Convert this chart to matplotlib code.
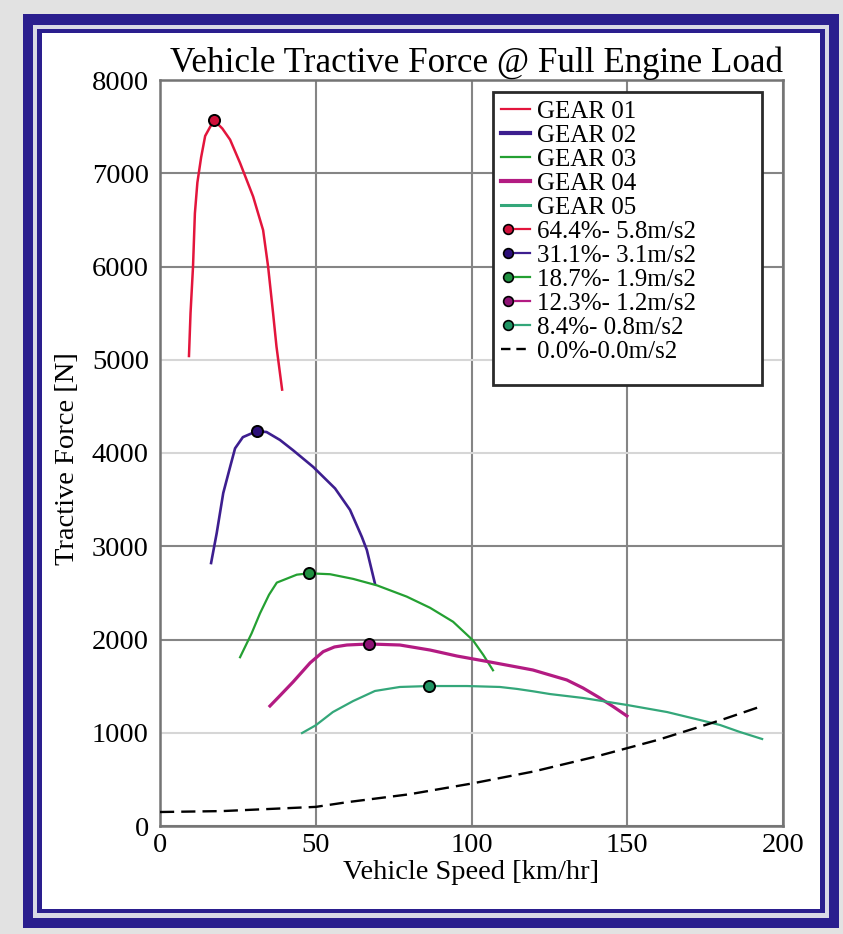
# =========================================================
# 1. IMPORTS
# =========================================================
import matplotlib
matplotlib.use("Agg")
import matplotlib.pyplot as plt
from matplotlib.lines import Line2D
from matplotlib.patches import Rectangle
from matplotlib.legend_handler import HandlerTuple

# =========================================================
# 2. DATA
# =========================================================
gear1_speed = [9.3, 9.8, 10.6, 11.2, 12.0, 13.2, 14.5, 17.3, 20.0, 22.5, 25.7,
               29.9, 33.1, 34.7, 36.3, 37.4, 39.2]
gear1_force = [5040, 5500, 6000, 6570, 6900, 7170, 7400, 7570, 7480, 7360, 7110,
               6750, 6390, 6000, 5500, 5140, 4680]

gear2_speed = [16.4, 18.2, 20.3, 22.5, 24.1, 26.6, 31.1, 34.2, 38.5, 42.7, 49.2,
               56.2, 61.0, 64.8, 66.4, 69.0]
gear2_force = [2820, 3140, 3570, 3850, 4050, 4170, 4235, 4225, 4140, 4030, 3850,
               3620, 3390, 3100, 2960, 2600]

gear3_speed = [25.7, 29.4, 32.1, 35.0, 37.5, 43.9, 47.8, 54.6, 62.0, 69.7, 79.2,
               86.7, 94.1, 100.5, 103.8, 106.9]
gear3_force = [1810, 2065, 2280, 2480, 2610, 2695, 2710, 2700, 2650, 2580, 2460,
               2340, 2190, 1990, 1834, 1670]

gear4_speed = [35.3, 38.0, 42.7, 48.2, 52.4, 56.0, 60.0, 67.1, 77.0, 86.7, 95.3,
               105.9, 114.6, 119.7, 125.2, 130.6, 135.8, 141.2, 145.5, 149.9]
gear4_force = [1287, 1380, 1544, 1750, 1870, 1920, 1941, 1952, 1941, 1887, 1823,
               1759, 1705, 1673, 1619, 1566, 1480, 1373, 1280, 1180]

gear5_speed = [45.6, 50.0, 55.5, 62.0, 69.0, 77.0, 86.4, 98.5, 109.1, 114.6, 119.7,
               125.2, 135.8, 149.9, 162.8, 173.3, 179.8, 186.0, 193.3]
gear5_force = [997, 1080, 1222, 1340, 1448, 1491, 1501, 1501, 1491, 1470, 1445,
               1415, 1373, 1298, 1222, 1137, 1083, 1010, 933]

resist_speed = [0, 20, 40, 50, 60, 80, 100, 120, 140, 160, 180, 193.6]
resist_force = [150, 160, 190, 205, 255, 340, 455, 585, 745, 925, 1135, 1290]

point_speed = [17.3, 31.1, 47.8, 67.1, 86.4]
point_force = [7570, 4235, 2710, 1952, 1501]
point_labels = ["64.4%- 5.8m/s2", "31.1%- 3.1m/s2", "18.7%- 1.9m/s2",
                "12.3%- 1.2m/s2", "8.4%- 0.8m/s2"]

gear_labels = ["GEAR 01", "GEAR 02", "GEAR 03", "GEAR 04", "GEAR 05"]
resist_label = "0.0%-0.0m/s2"

x_ticks = [0, 50, 100, 150, 200]
y_ticks = [0, 1000, 2000, 3000, 4000, 5000, 6000, 7000, 8000]

# =========================================================
# 3. STYLE SETTINGS
# =========================================================
FONT = ["Liberation Serif", "DejaVu Serif"]
NAVY = "#2a1e8e"
GEAR_COLORS = ["#e3153c", "#3d1e8f", "#24a032", "#b31b82", "#34a77a"]
GEAR_WIDTHS = [1.8, 1.9, 1.6, 2.3, 1.6]
POINT_COLORS = ["#d0103a", "#2c0f78", "#1f9040", "#8e1274", "#1f9463"]

plt.rcParams["font.family"] = FONT

# =========================================================
# 4. FIGURE + FRAME
# =========================================================
W, H = 843, 934
fig = plt.figure(figsize=(W / 100, H / 100), dpi=100)
fig.patch.set_facecolor("#e2e2e2")


def frame_rect(x0, y0, x1, y1, color):
    # pixel box (top-left origin) -> figure coords
    fig.patches.append(Rectangle((x0 / W, 1 - y1 / H), (x1 - x0) / W, (y1 - y0) / H,
                                 transform=fig.transFigure, facecolor=color,
                                 edgecolor="none", zorder=-10))


frame_rect(23, 14, 839, 928, NAVY)
frame_rect(33, 25, 829, 918, "#d9d9e6")
frame_rect(37, 29, 825, 913, NAVY)
frame_rect(42, 33, 820, 909, "white")

# =========================================================
# 5. AXES
# =========================================================
ax = fig.add_axes([160 / W, 1 - 826 / H, 623 / W, 746 / H])
ax.set_facecolor("white")

for spd, frc, col, lw, lab in zip(
        [gear1_speed, gear2_speed, gear3_speed, gear4_speed, gear5_speed],
        [gear1_force, gear2_force, gear3_force, gear4_force, gear5_force],
        GEAR_COLORS, GEAR_WIDTHS, gear_labels):
    ax.plot(spd, frc, color=col, lw=lw, label=lab, zorder=3)

for sx, fy, col in zip(point_speed, point_force, POINT_COLORS):
    ax.plot([sx], [fy], "o", color=col, markersize=8, markeredgecolor="black",
            markeredgewidth=1.4, zorder=5)

ax.plot(resist_speed, resist_force, color="black", lw=1.7, dashes=(6, 3), zorder=3)

ax.set_xlim(0, 200)
ax.set_ylim(0, 8000)
ax.set_xticks(x_ticks)
ax.set_yticks(y_ticks)
ax.tick_params(axis="both", length=0, labelsize=20.5)
ax.tick_params(axis="y", pad=8)
ax.tick_params(axis="x", pad=5)

ax.grid(True, color="#858585", lw=1.5, zorder=0)
ax.set_axisbelow(True)
# some horizontal gridlines look faint in the reference
for val, gl in zip(y_ticks, ax.get_ygridlines()):
    if val in (1000, 4000, 5000):
        gl.set_color("#d6d6d6")

for sp in ax.spines.values():
    sp.set_color("#747474")
    sp.set_linewidth(1.8)

ax.set_xlabel("Vehicle Speed [km/hr]", fontsize=20.5)
ax.xaxis.set_label_coords(0.5, -0.046)
ax.set_ylabel("Tractive Force [N]", fontsize=20.5)
ax.yaxis.set_label_coords(-0.128, 0.492)

fig.text(477 / W, 1 - 72 / H, "Vehicle Tractive Force @ Full Engine Load",
         fontsize=25.2, ha="center", va="baseline")

# =========================================================
# 6. LEGEND
# =========================================================
ax.add_patch(Rectangle((0.5345, 0.591), 0.4315, 0.393, transform=ax.transAxes,
                       facecolor="white", edgecolor="#2a2a2a", lw=2, zorder=6))

handles = []
for col, lw in zip(GEAR_COLORS, [1.6, 3.0, 1.6, 3.0, 2.2]):
    handles.append(Line2D([], [], color=col, lw=lw))
for col, pcol in zip(GEAR_COLORS, POINT_COLORS):
    dot = Line2D([], [], ls="none", marker="o", markersize=7, color=pcol,
                 markeredgecolor="black", markeredgewidth=1.2)
    seg = Line2D([], [], color=col, lw=1.6)
    handles.append((dot, seg))
handles.append(Line2D([], [], color="black", lw=1.7, dashes=(4, 2.5)))

labels = gear_labels + point_labels + [resist_label]

leg = ax.legend(handles, labels, loc="upper left", bbox_to_anchor=(0.547, 0.973),
                frameon=False, fontsize=18, borderpad=0, borderaxespad=0,
                handlelength=1.15, handletextpad=0.3, labelspacing=0.06,
                handler_map={tuple: HandlerTuple(ndivide=None, pad=0)})
leg.set_zorder(7)

# =========================================================
# 7. SAVE
# =========================================================
fig.savefig("out.png", dpi=100, facecolor=fig.get_facecolor())
print("saved out.png")
